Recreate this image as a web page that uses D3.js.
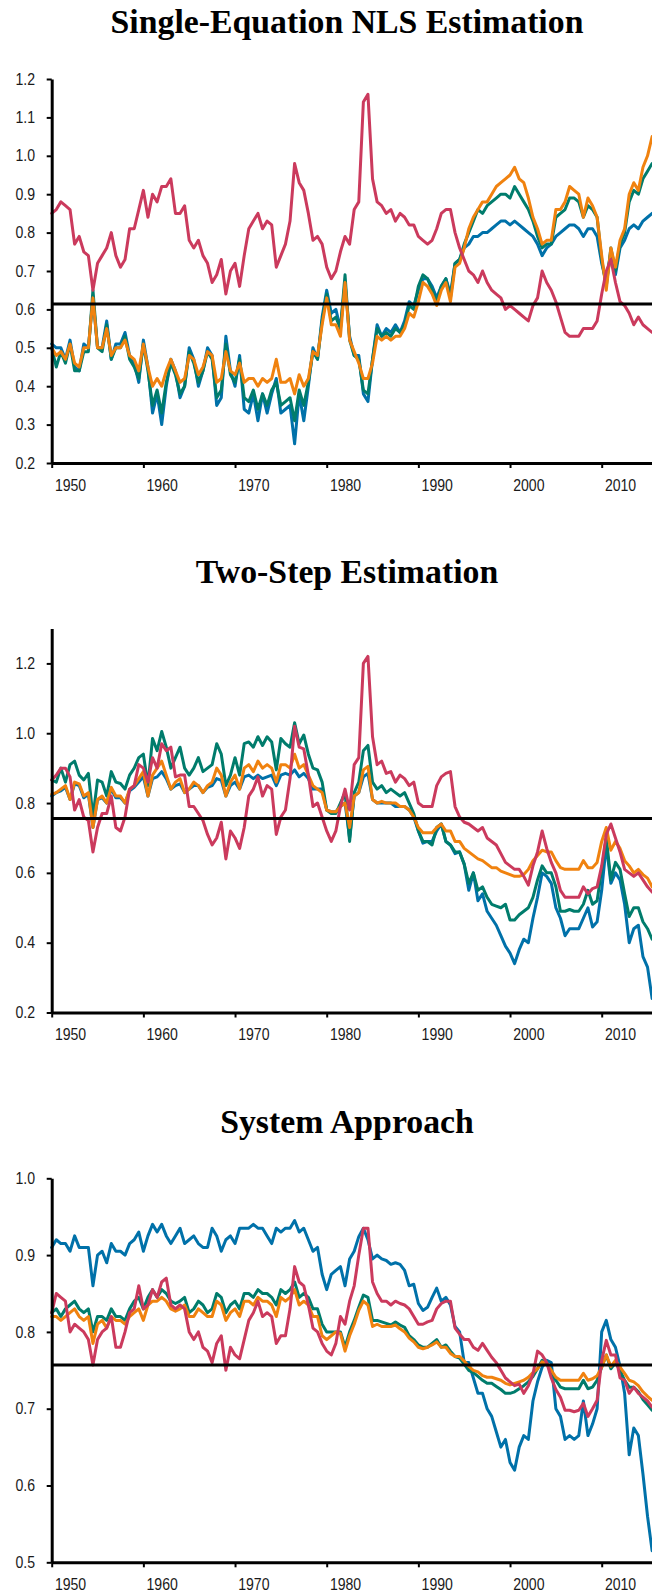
<!DOCTYPE html>
<html>
<head>
<meta charset="utf-8">
<script src="https://cdn.jsdelivr.net/npm/d3@7"></script>
<style>
  html, body { margin: 0; padding: 0; background: #fff; }
  svg { display: block; }
</style>
</head>
<body>
<svg id="chart" width="652" height="1594"></svg>
<script>
// ---------- DATA (semi-annual observations, 1948.0 .. 2013.5) ----------
const startYear = 1948;
const dates = d3.range(132).map(i => startYear + i * 0.5);

const seriesNames = ["blue", "teal", "orange", "red"];
const seriesColors = ["#0071A9", "#007C6C", "#F0820F", "#CB3A5D"];

// Panel 1: Single-Equation NLS Estimation
const nlsBlue = [0.51,0.50,0.50,0.47,0.52,0.45,0.44,0.51,0.50,0.63,
0.50,0.50,0.57,0.47,0.51,0.51,0.54,0.48,0.46,0.41,
0.52,0.45,0.33,0.38,0.30,0.40,0.47,0.44,0.37,0.40,
0.50,0.47,0.40,0.44,0.50,0.48,0.35,0.37,0.53,0.44,
0.40,0.48,0.34,0.33,0.38,0.31,0.38,0.33,0.38,0.42,
0.33,0.34,0.35,0.25,0.38,0.31,0.40,0.50,0.47,0.58,
0.65,0.59,0.60,
0.55,0.67,0.53,0.48,0.48,0.38,0.36,
0.47,0.56,0.53,0.55,0.54,0.56,0.54,0.57,0.62,0.61,
0.65,0.68,0.68,0.66,0.63,0.66,0.68,0.64,0.72,0.73,
0.76,0.77,0.79,0.79,0.80,0.80,0.81,0.82,0.83,0.83,
0.82,0.83,0.82,0.81,0.80,0.79,0.77,0.74,0.76,0.77,
0.79,0.80,0.81,0.82,0.82,0.81,0.79,0.81,0.81,0.79,
0.72,0.67,0.75,0.69,0.76,0.78,0.81,0.82,0.81,0.83,
0.84,0.85];
const nlsTeal = [0.50,0.45,0.49,0.46,0.51,0.44,0.44,0.49,0.49,0.65,
0.50,0.49,0.56,0.47,0.50,0.50,0.53,0.47,0.45,0.42,
0.51,0.44,0.35,0.39,0.33,0.41,0.46,0.43,0.38,0.40,
0.49,0.46,0.41,0.44,0.49,0.47,0.37,0.39,0.51,0.43,
0.41,0.47,0.37,0.36,0.39,0.34,0.38,0.35,0.39,0.41,
0.35,0.36,0.37,0.31,0.39,0.35,0.41,0.49,0.47,0.57,
0.64,0.57,0.58,
0.55,0.69,0.52,0.48,0.47,0.39,0.38,
0.47,0.55,0.53,0.54,0.53,0.55,0.54,0.56,0.61,0.60,
0.66,0.69,0.68,0.65,0.62,0.66,0.68,0.63,0.72,0.73,
0.77,0.80,0.83,0.86,0.85,0.87,0.88,0.89,0.90,0.90,
0.89,0.92,0.90,0.88,0.86,0.83,0.79,0.76,0.77,0.77,
0.84,0.85,0.86,0.89,0.89,0.88,0.84,0.87,0.86,0.84,
0.73,0.66,0.76,0.70,0.77,0.80,0.88,0.91,0.90,0.94,
0.96,0.98];
const nlsOrange = [0.50,0.48,0.49,0.47,0.51,0.46,0.45,0.50,0.50,0.63,
0.50,0.50,0.55,0.48,0.50,0.50,0.52,0.48,0.47,0.44,
0.51,0.45,0.40,0.42,0.40,0.44,0.47,0.44,0.41,0.42,
0.48,0.47,0.43,0.45,0.49,0.48,0.41,0.42,0.49,0.44,
0.43,0.46,0.41,0.42,0.42,0.40,0.42,0.41,0.42,0.47,
0.41,0.41,0.42,0.38,0.43,0.40,0.42,0.49,0.48,0.56,
0.63,0.56,0.56,
0.53,0.67,0.52,0.49,0.46,0.42,0.42,
0.46,0.53,0.52,0.53,0.52,0.53,0.53,0.55,0.59,0.58,
0.62,0.67,0.66,0.64,0.61,0.65,0.67,0.62,0.71,0.72,
0.76,0.81,0.84,0.86,0.88,0.88,0.90,0.92,0.93,0.94,
0.95,0.97,0.94,0.93,0.89,0.84,0.81,0.77,0.78,0.78,
0.86,0.86,0.88,0.92,0.91,0.90,0.84,0.89,0.87,0.84,
0.74,0.65,0.76,0.71,0.78,0.81,0.90,0.93,0.91,0.97,
1.00,1.05];
const nlsRed = [0.85,0.86,0.88,0.87,0.86,0.77,0.79,0.75,0.74,0.65,
0.72,0.74,0.76,0.80,0.74,0.71,0.73,0.81,0.81,0.86,
0.91,0.84,0.90,0.88,0.92,0.92,0.94,0.85,0.85,0.87,
0.78,0.76,0.78,0.74,0.72,0.67,0.69,0.73,0.64,0.70,
0.72,0.66,0.74,0.81,0.83,0.85,0.81,0.83,0.82,0.71,
0.74,0.77,0.83,0.98,0.93,0.91,0.85,0.78,0.79,0.77,
0.71,0.68,0.70,0.75,0.79,0.77,0.86,0.88,1.14,1.16,
0.94,0.88,0.87,0.85,0.86,0.83,0.85,0.84,0.82,0.82,
0.79,0.78,0.77,0.78,0.81,0.85,0.86,0.86,0.80,0.76,
0.73,0.70,0.69,0.67,0.70,0.67,0.65,0.64,0.63,0.60,
0.61,0.60,0.59,0.58,0.57,0.61,0.63,0.70,0.67,0.65,
0.62,0.58,0.54,0.53,0.53,0.53,0.55,0.55,0.55,0.57,
0.64,0.70,0.73,0.67,0.62,0.61,0.59,0.56,0.58,0.56,
0.55,0.54];

// Panel 2: Two-Step Estimation
const twoStepBlue = [0.82,0.83,0.835,0.845,0.81,0.855,0.85,0.815,0.825,0.73,
0.81,0.815,0.80,0.84,0.815,0.815,0.80,0.835,0.845,0.86,
0.875,0.82,0.87,0.875,0.89,0.87,0.84,0.85,0.855,0.83,
0.84,0.85,0.85,0.83,0.845,0.85,0.87,0.865,0.82,0.85,
0.86,0.84,0.875,0.88,0.87,0.88,0.87,0.875,0.88,0.85,
0.88,0.885,0.88,0.895,0.875,0.885,0.87,0.84,0.84,
0.84,
0.78,0.775,0.775,0.79,0.80,0.70,0.82,0.83,0.875,0.885,
0.81,0.80,0.80,0.80,0.80,0.79,0.79,0.79,0.78,0.76,
0.72,0.685,0.69,0.69,0.72,0.74,0.69,0.68,0.655,0.66,
0.625,0.55,0.60,0.52,0.54,0.49,0.47,0.45,0.42,0.39,
0.37,0.34,0.38,0.41,0.40,0.47,0.53,0.60,0.59,0.57,
0.50,0.47,0.42,0.44,0.44,0.44,0.47,0.50,0.445,0.46,
0.55,0.68,0.57,0.60,0.58,0.51,0.40,0.44,0.45,0.36,
0.33,0.24];
const twoStepTeal = [0.866,0.86,0.90,0.86,0.91,0.92,0.88,0.866,0.885,0.76,
0.866,0.86,0.82,0.89,0.86,0.856,0.84,0.88,0.90,0.93,
0.94,0.85,0.985,0.95,1.005,0.96,0.90,0.93,0.96,0.90,
0.88,0.90,0.93,0.89,0.90,0.91,0.97,0.94,0.85,0.88,
0.93,0.88,0.97,0.975,0.96,0.99,0.965,0.99,0.975,0.895,
0.985,0.97,0.96,1.03,0.97,0.995,0.94,0.90,0.895,
0.86,
0.78,0.77,0.77,0.80,0.83,0.69,0.83,0.86,0.95,0.965,
0.86,0.84,0.85,0.83,0.84,0.83,0.82,0.83,0.80,0.77,
0.72,0.69,0.69,0.68,0.73,0.74,0.69,0.68,0.66,0.66,
0.625,0.57,0.60,0.55,0.56,0.53,0.51,0.505,0.50,0.51,
0.465,0.465,0.48,0.49,0.50,0.53,0.58,0.62,0.60,0.60,
0.56,0.49,0.49,0.495,0.49,0.49,0.51,0.55,0.51,0.52,
0.61,0.70,0.58,0.63,0.61,0.54,0.475,0.50,0.50,0.46,
0.44,0.41];
const twoStepOrange = [0.825,0.83,0.84,0.85,0.81,0.86,0.855,0.82,0.83,0.73,
0.81,0.82,0.80,0.845,0.82,0.82,0.80,0.84,0.85,0.87,
0.89,0.82,0.88,0.90,0.92,0.88,0.84,0.86,0.87,0.83,
0.84,0.86,0.85,0.83,0.85,0.86,0.90,0.88,0.82,0.86,
0.88,0.84,0.90,0.91,0.89,0.92,0.90,0.91,0.90,0.86,
0.91,0.91,0.90,0.94,0.90,0.91,0.88,0.85,0.84,
0.83,
0.78,0.775,0.775,0.79,0.80,0.73,0.82,0.83,0.895,0.905,
0.81,0.80,0.805,0.80,0.80,0.80,0.79,0.79,0.78,0.76,
0.73,0.715,0.715,0.715,0.73,0.74,0.72,0.72,0.69,0.69,
0.67,0.66,0.65,0.64,0.635,0.625,0.615,0.615,0.605,0.60,
0.595,0.59,0.59,0.595,0.61,0.635,0.65,0.665,0.66,0.66,
0.635,0.615,0.61,0.61,0.61,0.61,0.635,0.615,0.615,0.63,
0.69,0.73,0.665,0.69,0.67,0.635,0.62,0.60,0.61,0.595,
0.585,0.56];
const twoStepRed = [0.866,0.88,0.90,0.90,0.875,0.78,0.81,0.76,0.75,0.66,
0.73,0.77,0.77,0.82,0.73,0.72,0.76,0.84,0.85,0.91,
0.90,0.86,0.93,0.90,0.97,0.95,0.96,0.875,0.88,0.88,
0.79,0.79,0.77,0.75,0.71,0.68,0.70,0.745,0.64,0.72,
0.70,0.67,0.73,0.82,0.84,0.875,0.82,0.85,0.84,0.71,
0.76,0.78,0.87,1.02,0.96,0.955,0.88,0.79,0.80,0.76,
0.72,0.69,0.72,
0.79,0.84,0.78,0.91,0.93,1.20,1.22,
0.99,0.91,0.92,0.885,0.89,0.86,0.88,0.87,0.85,0.86,
0.80,0.79,0.79,0.79,0.85,0.875,0.885,0.89,0.79,0.76,
0.745,0.74,0.73,0.72,0.73,0.70,0.69,0.68,0.655,0.63,
0.62,0.61,0.61,0.59,0.565,0.62,0.66,0.72,0.67,0.63,
0.60,0.55,0.53,0.53,0.53,0.53,0.56,0.54,0.555,0.56,
0.62,0.71,0.74,0.70,0.66,0.61,0.60,0.59,0.60,0.58,
0.56,0.545];

// Panel 3: System Approach
const systemBlue = [0.91,0.92,0.915,0.915,0.905,0.925,0.91,0.91,0.91,0.86,
0.90,0.905,0.89,0.915,0.905,0.905,0.90,0.915,0.92,0.93,
0.905,0.925,0.94,0.93,0.94,0.925,0.915,0.925,0.935,0.915,
0.92,0.925,0.915,0.91,0.91,0.935,0.925,0.905,0.92,0.925,
0.915,0.935,0.935,0.935,0.94,0.935,0.935,0.925,0.915,0.935,
0.93,0.935,0.935,0.945,0.93,0.935,0.92,0.905,0.91,0.875,
0.855,0.875,0.88,
0.885,0.86,0.895,0.905,0.924,0.935,0.92,
0.895,0.90,0.895,0.893,0.888,0.89,0.888,0.88,0.86,0.862,
0.837,0.828,0.832,0.845,0.857,0.84,0.845,0.835,0.807,0.80,
0.76,0.76,0.74,0.72,0.72,0.70,0.69,0.67,0.65,0.66,
0.63,0.62,0.65,0.665,0.66,0.71,0.735,0.754,0.763,0.76,
0.70,0.69,0.66,0.665,0.66,0.665,0.71,0.665,0.68,0.70,
0.80,0.815,0.79,0.78,0.755,0.72,0.64,0.675,0.665,0.615,
0.56,0.515];
const systemTeal = [0.825,0.83,0.82,0.83,0.835,0.84,0.83,0.825,0.83,0.80,
0.82,0.82,0.815,0.83,0.82,0.82,0.815,0.83,0.84,0.845,
0.83,0.845,0.855,0.845,0.855,0.85,0.84,0.837,0.84,0.845,
0.825,0.83,0.84,0.835,0.825,0.83,0.85,0.845,0.825,0.835,
0.84,0.83,0.85,0.85,0.845,0.855,0.85,0.85,0.845,0.835,
0.855,0.85,0.855,0.865,0.845,0.85,0.845,0.83,0.83,0.81,
0.80,0.80,0.80,
0.80,0.78,0.80,0.815,0.832,0.848,0.845,
0.815,0.815,0.813,0.811,0.809,0.813,0.809,0.806,0.795,0.79,
0.783,0.78,0.78,0.785,0.79,0.78,0.783,0.775,0.768,0.766,
0.758,0.75,0.747,0.742,0.737,0.733,0.733,0.729,0.725,0.72,
0.72,0.722,0.726,0.73,0.735,0.742,0.752,0.763,0.759,0.75,
0.737,0.728,0.726,0.726,0.726,0.726,0.737,0.726,0.728,0.737,
0.754,0.77,0.752,0.76,0.75,0.737,0.728,0.728,0.722,0.712,
0.705,0.698];
const systemOrange = [0.82,0.82,0.815,0.82,0.825,0.83,0.82,0.815,0.82,0.785,
0.81,0.815,0.805,0.82,0.815,0.815,0.81,0.82,0.825,0.83,
0.815,0.835,0.84,0.84,0.845,0.84,0.83,0.827,0.83,0.835,
0.82,0.82,0.83,0.825,0.82,0.82,0.84,0.835,0.815,0.825,
0.83,0.82,0.84,0.84,0.835,0.845,0.84,0.84,0.835,0.82,
0.845,0.84,0.845,0.855,0.835,0.84,0.835,0.82,0.82,0.795,
0.79,0.795,0.80,
0.798,0.775,0.795,0.81,0.828,0.84,0.835,
0.807,0.81,0.807,0.807,0.807,0.809,0.804,0.80,0.792,0.787,
0.78,0.778,0.78,0.783,0.787,0.78,0.78,0.772,0.768,0.768,
0.762,0.755,0.75,0.748,0.743,0.741,0.741,0.739,0.737,0.733,
0.731,0.733,0.735,0.737,0.741,0.747,0.752,0.761,0.759,0.75,
0.741,0.737,0.737,0.737,0.737,0.737,0.746,0.737,0.739,0.743,
0.754,0.77,0.755,0.763,0.754,0.746,0.737,0.735,0.73,0.722,
0.716,0.711];
const systemRed = [0.825,0.85,0.845,0.84,0.80,0.81,0.805,0.80,0.79,0.757,
0.79,0.80,0.805,0.82,0.78,0.78,0.80,0.825,0.83,0.86,
0.83,0.835,0.855,0.845,0.865,0.87,0.835,0.83,0.835,0.83,
0.80,0.79,0.80,0.78,0.775,0.76,0.785,0.795,0.75,0.78,
0.77,0.765,0.79,0.815,0.825,0.84,0.82,0.825,0.82,0.785,
0.795,0.795,0.83,0.885,0.865,0.86,0.835,0.805,0.80,0.785,
0.775,0.77,0.785,
0.82,0.81,0.84,0.86,0.90,0.935,0.935,
0.865,0.85,0.84,0.84,0.835,0.84,0.837,0.835,0.83,0.82,
0.81,0.81,0.813,0.815,0.83,0.837,0.84,0.84,0.805,0.797,
0.79,0.79,0.78,0.776,0.785,0.776,0.767,0.76,0.75,0.74,
0.735,0.73,0.732,0.72,0.73,0.745,0.775,0.77,0.76,0.74,
0.725,0.715,0.698,0.698,0.696,0.698,0.707,0.69,0.70,0.711,
0.763,0.789,0.77,0.77,0.74,0.737,0.72,0.728,0.72,0.715,
0.71,0.702];

// Axis ticks and reference levels
const titles = ["Single-Equation NLS Estimation", "Two-Step Estimation", "System Approach"];
const nlsTicks = [0.2,0.3,0.4,0.5,0.6,0.7,0.8,0.9,1.0,1.1,1.2];
const twoStepTicks = [0.2,0.4,0.6,0.8,1.0,1.2];
const systemTicks = [0.5,0.6,0.7,0.8,0.9,1.0];
const yDomains = [[0.2, 1.2], [0.2, 1.3], [0.5, 1.0]];
const refLevels = [0.614, 0.756, 0.757];
const xTickYears = [1948,1958,1968,1978,1988,1998,2008,2018];
const xLabelYears = [1950,1960,1970,1980,1990,2000,2010];

// ---------- DRAWING ----------
const svg = d3.select("#chart");
const W = 652;
const plotLeft = 51.7;
const plotH = 384;
const panelTops = [79, 628.5, 1178.3];
const pxPerYear = 9.1667;

const x = d3.scaleLinear()
  .domain([1948, 2016])
  .range([plotLeft, plotLeft + 68 * pxPerYear]);

const panels = [
  { title: titles[0], ticks: nlsTicks, series: [nlsBlue, nlsTeal, nlsOrange, nlsRed] },
  { title: titles[1], ticks: twoStepTicks, series: [twoStepBlue, twoStepTeal, twoStepOrange, twoStepRed] },
  { title: titles[2], ticks: systemTicks, series: [systemBlue, systemTeal, systemOrange, systemRed] }
];

const tickFont = "'Liberation Sans', Arial, sans-serif";
const titleFont = "'Liberation Serif', 'Times New Roman', serif";
const tickFontSize = 16;
const tickSqueeze = 0.88;

// title size fitted to the measured width of the first title
let titleSize = 34;
{
  const t = svg.append("text").attr("font-family", titleFont).attr("font-weight", "bold")
    .attr("font-size", 34).text(titles[0]);
  const len = t.node().getComputedTextLength();
  t.remove();
  if (len > 0) titleSize = 34 * 473 / len;
}

function styleTickText(sel) {
  sel.attr("font-family", tickFont)
    .attr("font-size", tickFontSize)
    .attr("fill", "#1a1a1a")
    .each(function () {
      const len = this.getComputedTextLength();
      if (len > 0) {
        d3.select(this)
          .attr("textLength", len * tickSqueeze)
          .attr("lengthAdjust", "spacingAndGlyphs");
      }
    });
}

panels.forEach((p, i) => {
  const top = panelTops[i];
  const y = d3.scaleLinear().domain(yDomains[i]).range([top + plotH, top]);
  const g = svg.append("g");

  // title
  g.append("text")
    .attr("x", 347)
    .attr("y", top - 45.7)
    .attr("text-anchor", "middle")
    .attr("font-family", titleFont)
    .attr("font-weight", "bold")
    .attr("font-size", titleSize)
    .attr("fill", "#000")
    .text(p.title);

  // series lines
  const line = d3.line()
    .x((d, j) => x(dates[j]))
    .y(d => y(d))
    .curve(d3.curveLinear);

  p.series.forEach((s, k) => {
    g.append("path")
      .datum(s)
      .attr("d", line)
      .attr("fill", "none")
      .attr("stroke", seriesColors[k])
      .attr("stroke-width", 3)
      .attr("stroke-linejoin", "round")
      .attr("stroke-linecap", "round");
  });

  // reference line
  g.append("line")
    .attr("x1", plotLeft)
    .attr("x2", W + 10)
    .attr("y1", y(refLevels[i]))
    .attr("y2", y(refLevels[i]))
    .attr("stroke", "#000")
    .attr("stroke-width", 3);

  // y axis
  const yAxis = d3.axisLeft(y)
    .tickValues(p.ticks)
    .tickFormat(d3.format(".1f"))
    .tickSizeInner(5)
    .tickSizeOuter(0)
    .tickPadding(11.7);
  const ya = g.append("g")
    .attr("transform", `translate(${plotLeft},0)`)
    .call(yAxis);
  ya.select(".domain").attr("stroke", "#000").attr("stroke-width", 3);
  ya.selectAll(".tick line").attr("stroke", "#000").attr("stroke-width", 2);
  styleTickText(ya.selectAll(".tick text"));

  // x axis: tick marks
  const xAxisTicks = d3.axisBottom(x)
    .tickValues(xTickYears)
    .tickFormat("")
    .tickSizeInner(5)
    .tickSizeOuter(0);
  const xa = g.append("g")
    .attr("transform", `translate(0,${top + plotH})`)
    .call(xAxisTicks);
  xa.select(".domain").attr("stroke", "#000").attr("stroke-width", 3);
  xa.selectAll(".tick line").attr("stroke", "#000").attr("stroke-width", 2);

  // x axis: year labels
  const xAxisLabels = d3.axisBottom(x)
    .tickValues(xLabelYears)
    .tickFormat(d3.format("d"))
    .tickSize(0)
    .tickPadding(16.5);
  const xl = g.append("g")
    .attr("transform", `translate(0,${top + plotH})`)
    .call(xAxisLabels);
  xl.select(".domain").remove();
  styleTickText(xl.selectAll(".tick text"));
});
</script>
</body>
</html>
